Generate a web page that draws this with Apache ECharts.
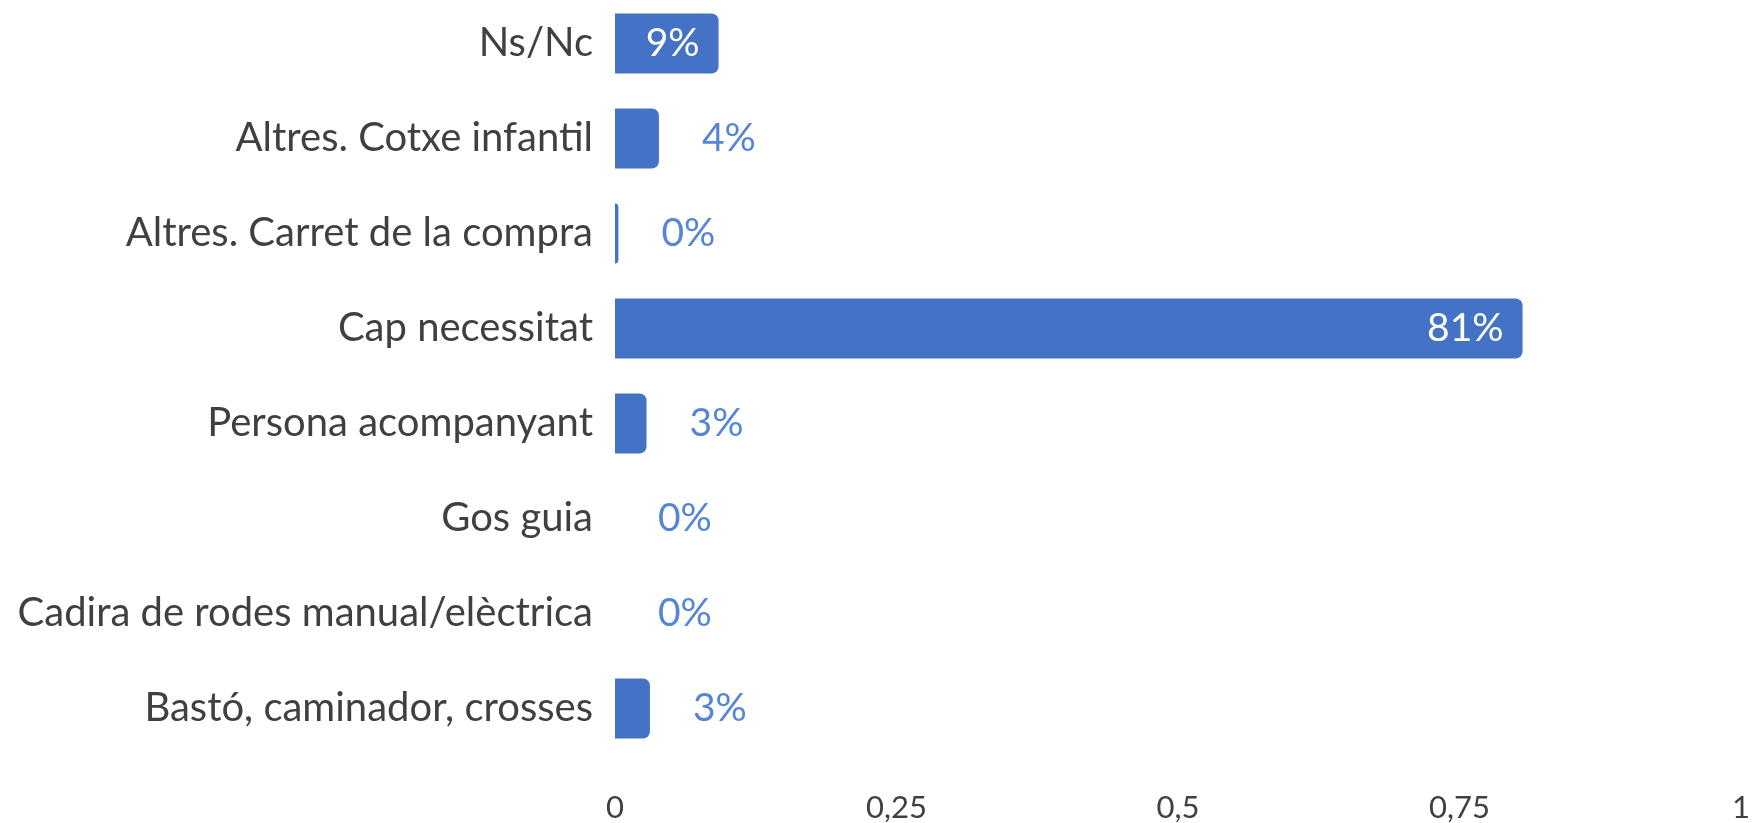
<!DOCTYPE html>
<html>
<head>
<meta charset="utf-8">
<script src="https://cdn.jsdelivr.net/npm/echarts@6/dist/echarts.min.js"></script>
<style>
html,body{margin:0;padding:0;background:#fff;overflow:hidden;}
#chart{position:absolute;left:0;top:-4px;width:1753px;height:827px;}
</style>
</head>
<body>
<div id="chart"></div>
<script>
const categories = [
  'Ns/Nc',
  'Altres. Cotxe infantil',
  'Altres. Carret de la compra',
  'Cap necessitat',
  'Persona acompanyant',
  'Gos guia',
  'Cadira de rodes manual/elèctrica',
  'Bastó, caminador, crosses'
];
const values = [0.092, 0.039, 0.003, 0.806, 0.028, 0, 0, 0.031];
const xTicks = [0, 0.25, 0.5, 0.75, 1];

const FONT = 'Lato';
const BAR = '#4472C4';
const LABEL_BLUE = '#5585D6';

const seriesData = values.map(v => {
  const inside = v > 0.05;
  return {
    value: v,
    label: inside
      ? { position: 'insideRight', distance: 19, color: '#ffffff' }
      : { position: 'right', distance: 43, color: LABEL_BLUE }
  };
});

const chart = echarts.init(document.getElementById('chart'));
chart.setOption({
  animation: false,
  backgroundColor: '#ffffff',
  grid: { left: 615, right: 11, top: 0, height: 761 },
  xAxis: {
    type: 'value',
    min: xTicks[0],
    max: xTicks[xTicks.length - 1],
    interval: 0.25,
    axisLine: { show: false },
    axisTick: { show: false },
    splitLine: { show: false },
    axisLabel: {
      fontFamily: FONT,
      fontSize: 31,
      color: '#404040',
      margin: 36,
      formatter: v => String(v).replace('.', ',')
    }
  },
  yAxis: {
    type: 'category',
    inverse: true,
    data: categories,
    axisLine: { show: false },
    axisTick: { show: false },
    axisLabel: {
      fontFamily: FONT,
      fontSize: 40,
      color: '#404040',
      margin: 22
    }
  },
  series: [{
    type: 'bar',
    data: seriesData,
    barWidth: 60,
    itemStyle: { color: BAR, borderRadius: [0, 7, 7, 0] },
    label: {
      show: true,
      fontFamily: FONT,
      fontSize: 39,
      formatter: p => Math.round(p.value * 100) + '%'
    }
  }]
});
</script>
</body>
</html>
